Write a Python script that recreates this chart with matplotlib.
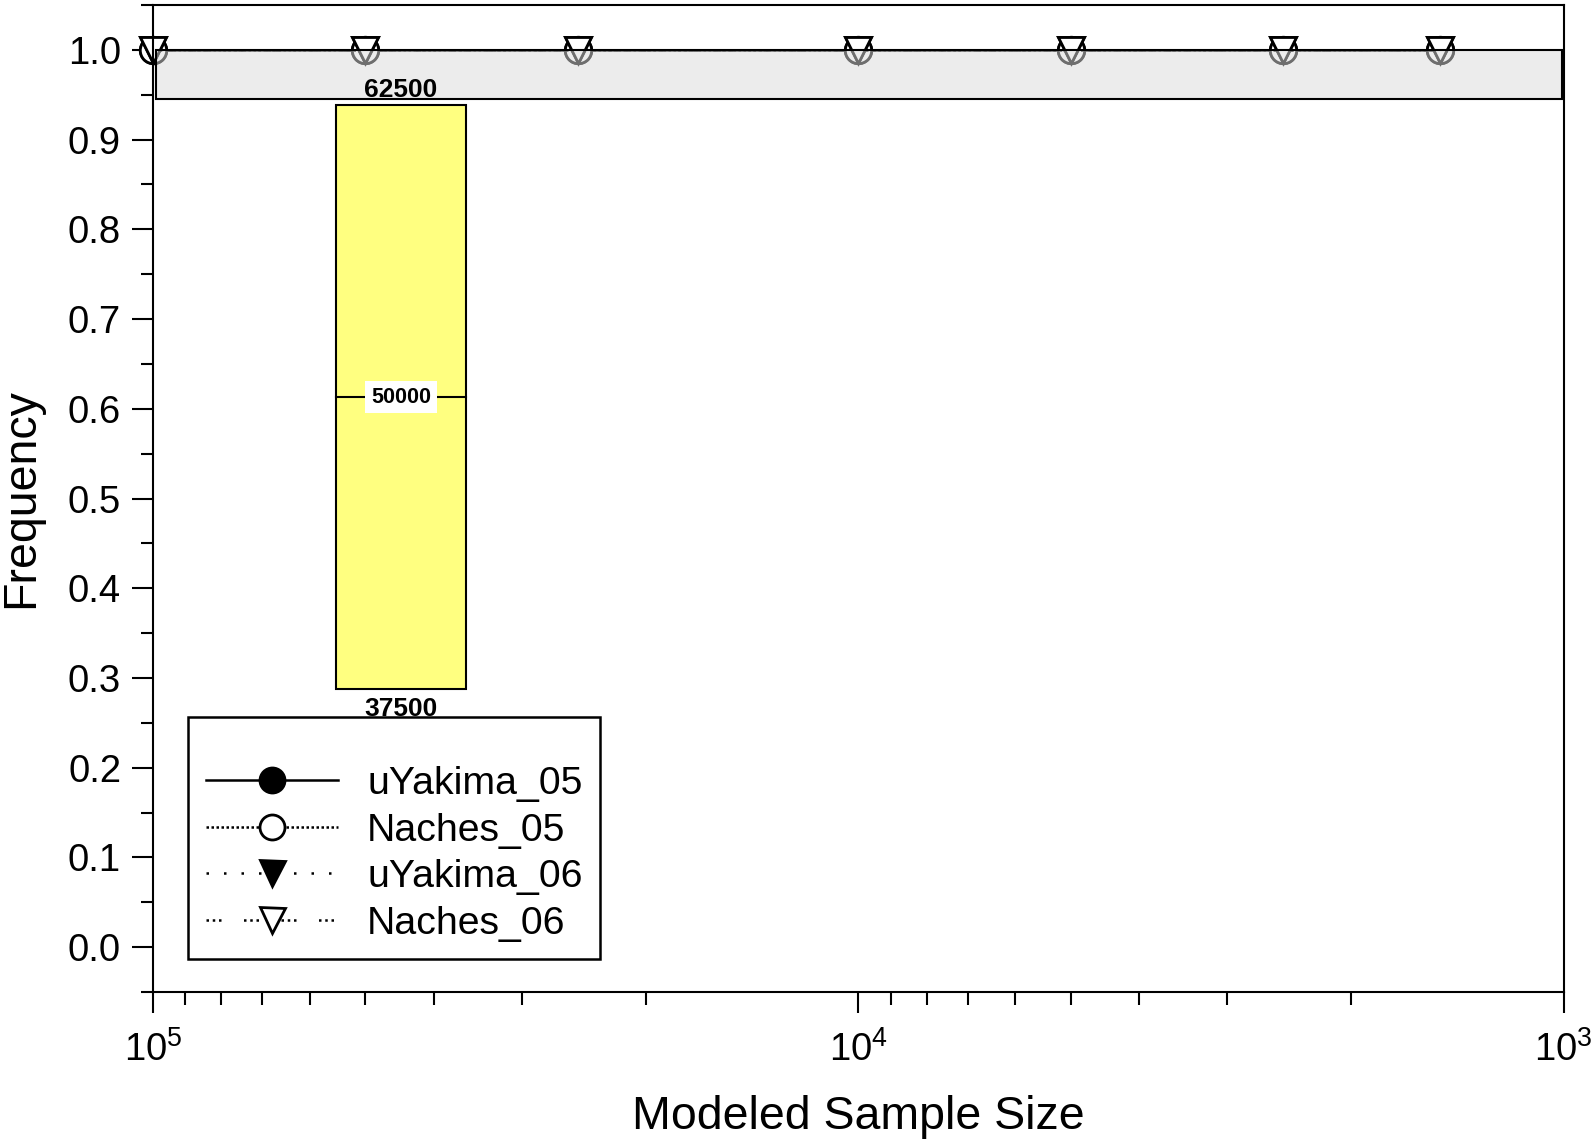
import matplotlib
matplotlib.use("Agg")
import matplotlib.pyplot as plt
from matplotlib.patches import Rectangle
from matplotlib.ticker import LogLocator, MultipleLocator, NullFormatter

plt.rcParams['font.family'] = ['Liberation Sans', 'DejaVu Sans']

# modeled sample sizes and frequency of each population
sizes = [100000, 50000, 25000, 10000, 5000, 2500, 1500]
uyakima_05 = [1.0, 1.0, 1.0, 1.0, 1.0, 1.0, 1.0]
naches_05 = [1.0, 1.0, 1.0, 1.0, 1.0, 1.0, 1.0]
uyakima_06 = [1.0, 1.0, 1.0, 1.0, 1.0, 1.0, 1.0]
naches_06 = [1.0, 1.0, 1.0, 1.0, 1.0, 1.0, 1.0]

# shaded bands: (x left, x right, y low, y high)
grey_band = (99000, 1006, 0.945, 1.0)
box_x = (55000, 36000)
box_freq = (0.288, 0.613, 0.939)   # low, mid, high
box_labels = ["37500", "50000", "62500"]

fig = plt.figure(figsize=(15.94, 11.40), dpi=100)
ax = fig.add_axes([0.096, 0.1298, 0.885, 0.8658])

lw = 1.8
ms = 19
common = dict(lw=lw, color='black', ms=ms, mew=2, mec='black', clip_on=False)
ax.plot(sizes, uyakima_05, ls='-', marker='o', mfc='black', label='uYakima_05', **common)
ax.plot(sizes, naches_05, ls=(0, (1, 1)), marker='o', mfc='white', label='Naches_05', **common)
ax.plot(sizes, uyakima_06, ls=(0, (1, 6)), marker='v', mfc='black', label='uYakima_06', **common)
ax.plot(sizes, naches_06, ls=(0, (1, 1.5, 1, 1.5, 1, 9)), marker='v', mfc='white',
        label='Naches_06', **common)

# grey band across the top
gx0, gx1, gy0, gy1 = grey_band
ax.add_patch(Rectangle((gx1, gy0), gx0 - gx1, gy1 - gy0, facecolor='#dadada',
                       alpha=0.51, edgecolor='none', zorder=5))
ax.add_patch(Rectangle((gx1, gy0), gx0 - gx1, gy1 - gy0, facecolor='none',
                       edgecolor='black', lw=1.5, zorder=6))

# yellow box
bx0, bx1 = box_x
lo, mid, hi = box_freq
ax.add_patch(Rectangle((bx1, lo), bx0 - bx1, hi - lo, facecolor='#ffff80',
                       edgecolor='black', lw=1.5, zorder=4))
ax.plot([bx0, bx1], [mid, mid], color='black', lw=1.5, zorder=4.5)
xc = (bx0 * bx1) ** 0.5
ax.text(xc, lo - 0.009, box_labels[0], ha='center', va='top', fontsize=19,
        fontweight='bold', zorder=7)
ax.text(xc, hi + 0.003, box_labels[2], ha='center', va='bottom', fontsize=19,
        fontweight='bold', zorder=7)
ax.text(xc, mid, box_labels[1], ha='center', va='center', fontsize=15.5,
        fontweight='bold', zorder=7,
        bbox=dict(facecolor='white', edgecolor='none', pad=4))

ax.set_xscale('log')
ax.set_xlim(100000, 1000)
ax.set_ylim(-0.05, 1.05)
ax.xaxis.set_major_locator(LogLocator(base=10, numticks=10))
ax.xaxis.set_minor_locator(LogLocator(base=10, subs=range(2, 10), numticks=20))
ax.xaxis.set_minor_formatter(NullFormatter())
ax.yaxis.set_major_locator(MultipleLocator(0.1))
ax.yaxis.set_minor_locator(MultipleLocator(0.05))
ax.yaxis.set_major_formatter(matplotlib.ticker.FormatStrFormatter('%.1f'))

for s in ax.spines.values():
    s.set_linewidth(1.5)
ax.tick_params(which='major', direction='out', length=15, width=1.5, labelsize=27.5, pad=8)
ax.tick_params(axis='x', which='major', pad=13)
ax.tick_params(which='minor', direction='out', length=9, width=1.5)
ax.tick_params(top=False, right=False, which='both')

ax.set_xlabel('Modeled Sample Size', fontsize=33.5, labelpad=19)
ax.set_ylabel('Frequency', fontsize=33.5, labelpad=18)

leg = ax.legend(loc='lower left', bbox_to_anchor=(0.025, 0.033), borderaxespad=0,
                fontsize=28.3, handlelength=3.35, handletextpad=0.75,
                labelspacing=0.27, borderpad=0.45, fancybox=False, framealpha=1,
                title=' ', title_fontsize=16)
leg.get_frame().set_edgecolor('black')
leg.get_frame().set_linewidth(1.8)
for h in leg.legend_handles:
    h.set_markersize(18)

fig.savefig('out.png', dpi=100)
